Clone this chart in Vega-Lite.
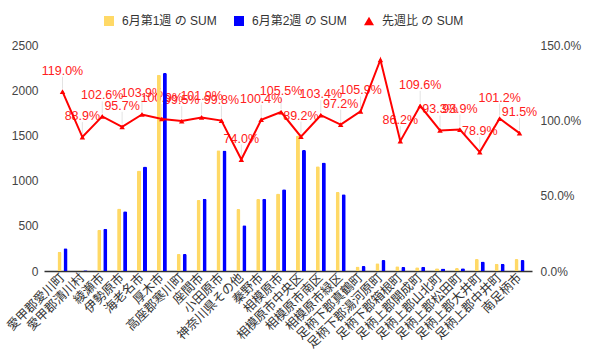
{
  "$schema": "https://vega.github.io/schema/vega-lite/v6.json",
  "autosize": {"type": "none"},
  "width": 488,
  "height": 226,
  "padding": {"left": 44, "top": 45, "right": 62, "bottom": 89},
  "background": "white",
  "config": {
    "font": "Liberation Sans, Noto Sans CJK JP, sans-serif",
    "view": {"stroke": null},
    "axis": {"labelFont": "Liberation Sans, Noto Sans CJK JP, sans-serif", "labelFontSize": 12, "labelColor": "#444", "titleFontSize": 0}
  },
  "datasets": {
    "rows": [
      {"city": "愛甲郡愛川町", "w1": 212, "w2": 252, "ratio": 1.190},
      {"city": "愛甲郡清川村", "w1": 9, "w2": 8, "ratio": 0.889},
      {"city": "綾瀬市", "w1": 455, "w2": 467, "ratio": 1.026},
      {"city": "伊勢原市", "w1": 690, "w2": 660, "ratio": 0.957},
      {"city": "海老名市", "w1": 1112, "w2": 1155, "ratio": 1.039},
      {"city": "厚木市", "w1": 2170, "w2": 2190, "ratio": 1.009},
      {"city": "高座郡寒川町", "w1": 189, "w2": 188, "ratio": 0.995},
      {"city": "座間市", "w1": 785, "w2": 800, "ratio": 1.019},
      {"city": "小田原市", "w1": 1335, "w2": 1332, "ratio": 0.998},
      {"city": "神奈川県その他", "w1": 685, "w2": 507, "ratio": 0.740},
      {"city": "秦野市", "w1": 797, "w2": 800, "ratio": 1.004},
      {"city": "相模原市", "w1": 856, "w2": 903, "ratio": 1.055},
      {"city": "相模原市中央区", "w1": 1500, "w2": 1338, "ratio": 0.892},
      {"city": "相模原市南区", "w1": 1160, "w2": 1199, "ratio": 1.034},
      {"city": "相模原市緑区", "w1": 875, "w2": 850, "ratio": 0.972},
      {"city": "足柄下郡真鶴町", "w1": 51, "w2": 54, "ratio": 1.059},
      {"city": "足柄下郡湯河原町", "w1": 87, "w2": 122, "ratio": 1.402},
      {"city": "足柄下郡箱根町", "w1": 52, "w2": 45, "ratio": 0.862},
      {"city": "足柄上郡開成町", "w1": 42, "w2": 46, "ratio": 1.096},
      {"city": "足柄上郡山北町", "w1": 30, "w2": 28, "ratio": 0.933},
      {"city": "足柄上郡松田町", "w1": 33, "w2": 31, "ratio": 0.939},
      {"city": "足柄上郡大井町", "w1": 133, "w2": 105, "ratio": 0.789},
      {"city": "足柄上郡中井町", "w1": 80, "w2": 81, "ratio": 1.012},
      {"city": "南足柄市", "w1": 133, "w2": 122, "ratio": 0.915}
    ]
  },
  "data": {"name": "rows"},
  "layer": [
    {
      "transform": [{"filter": "datum.city !== '足柄下郡湯河原町'"}],
      "layer": [
        {
          "mark": {"type": "rule", "color": "#e3e3e3", "strokeWidth": 1, "yOffset": -3, "y2Offset": -15},
          "encoding": {
            "x": {"field": "city", "type": "nominal", "sort": null},
            "y": {"field": "ratio", "type": "quantitative", "scale": {"domain": [0, 1.5]}, "axis": null},
            "y2": {"field": "ratio"}
          }
        },
        {
          "mark": {"type": "text", "color": "#ff2020", "fontSize": 12.5, "baseline": "middle", "dy": -21},
          "encoding": {
            "x": {"field": "city", "type": "nominal", "sort": null},
            "y": {"field": "ratio", "type": "quantitative", "scale": {"domain": [0, 1.5]}, "axis": null},
            "text": {"field": "ratio", "type": "quantitative", "format": ".1%"}
          }
        }
      ]
    },
    {
      "transform": [{"fold": ["w1", "w2"], "as": ["week", "value"]}],
      "mark": {"type": "bar", "cornerRadiusTopLeft": 1.5, "cornerRadiusTopRight": 1.5},
      "encoding": {
        "x": {
          "field": "city", "type": "nominal", "sort": null,
          "scale": {
            "domain": ["愛甲郡愛川町", "愛甲郡清川村", "綾瀬市", "伊勢原市", "海老名市", "厚木市", "高座郡寒川町", "座間市", "小田原市", "神奈川県その他", "秦野市", "相模原市", "相模原市中央区", "相模原市南区", "相模原市緑区", "足柄下郡真鶴町", "足柄下郡湯河原町", "足柄下郡箱根町", "足柄上郡開成町", "足柄上郡山北町", "足柄上郡松田町", "足柄上郡大井町", "足柄上郡中井町", "南足柄市"],
            "paddingInner": 0, "paddingOuter": 0.28, "align": 0.77
          },
          "axis": {"title": null, "labelAngle": -45, "labelAlign": "right", "labelBaseline": "middle", "labelPadding": 4, "labelFontSize": 12.5, "labelColor": "#333", "ticks": false, "domainColor": "#333", "domainWidth": 1.5, "labelOverlap": false, "labelLimit": 200}
        },
        "xOffset": {"field": "week", "type": "nominal", "scale": {"paddingInner": 0.333, "paddingOuter": 0.82}},
        "y": {
          "field": "value", "type": "quantitative",
          "scale": {"domain": [0, 2500], "nice": false},
          "axis": {"title": null, "orient": "left", "format": "d", "values": [0, 500, 1000, 1500, 2000, 2500], "domain": false, "ticks": false, "labelPadding": 6, "gridColor": "#cccccc", "gridWidth": 1}
        },
        "color": {
          "field": "week", "type": "nominal",
          "scale": {"domain": ["w1", "w2", "r"], "range": ["#ffd966", "#0000ff", "#ff0000"]},
          "legend": {
            "title": null, "orient": "none", "direction": "horizontal", "legendX": 59, "legendY": -30,
            "symbolType": "square", "symbolSize": 100, "symbolStrokeWidth": 0, "labelFontSize": 12, "labelColor": "#333",
            "labelOffset": 7, "columnPadding": 16,
            "labelExpr": "datum.value == 'w1' ? '6月第1週 の SUM' : (datum.value == 'w2' ? '6月第2週 の SUM' : '先週比 の SUM')",
            "encode": {"symbols": {"update": {"shape": {"signal": "datum.value == 'r' ? 'triangle-up' : 'square'"}}}}
          }
        }
      }
    },
    {
      "layer": [
        {
          "mark": {"type": "line", "strokeWidth": 2},
          "encoding": {
            "x": {"field": "city", "type": "nominal", "sort": null},
            "y": {
              "field": "ratio", "type": "quantitative",
              "scale": {"domain": [0, 1.5], "nice": false},
              "axis": {"title": null, "orient": "right", "format": ".1%", "values": [0, 0.5, 1, 1.5], "grid": false, "domain": false, "ticks": false, "labelPadding": 8}
            },
            "color": {"datum": "r"}
          }
        },
        {
          "mark": {"type": "point", "shape": "triangle-up", "filled": true, "size": 30, "opacity": 1},
          "encoding": {
            "x": {"field": "city", "type": "nominal", "sort": null},
            "y": {"field": "ratio", "type": "quantitative"},
            "color": {"datum": "r"}
          }
        }
      ]
    }
  ],
  "resolve": {"scale": {"y": "independent"}}
}
